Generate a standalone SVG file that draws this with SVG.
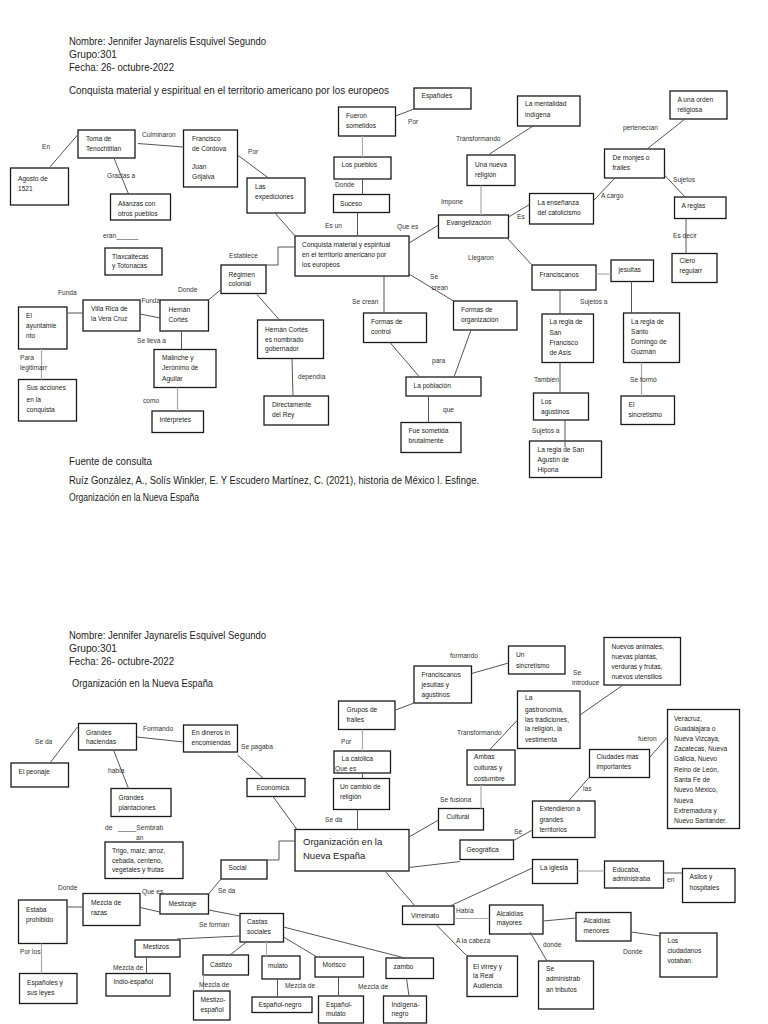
<svg xmlns="http://www.w3.org/2000/svg" width="768" height="1024" viewBox="0 0 768 1024">
<style>
.b{fill:#fff;stroke:#1a1a1a;stroke-width:1.3}
.t{font-family:"Liberation Sans",Arial,sans-serif;font-size:6.6px;fill:#222}
.l{font-family:"Liberation Sans",Arial,sans-serif;font-size:6.6px;fill:#333}
.h{font-family:"Liberation Sans",Arial,sans-serif;font-size:10.5px;fill:#222}
.ht{font-family:"Liberation Sans",Arial,sans-serif;font-size:9.5px;fill:#222}
.c{stroke:#555;stroke-width:1;fill:none}
.g{stroke:#aaa;stroke-width:1.2;fill:none}
</style>
<rect width="768" height="1024" fill="#fff"/>
<g id="headers">
<text class="h" x="69" y="45" textLength="197" lengthAdjust="spacingAndGlyphs">Nombre: Jennifer Jaynarelis Esquivel Segundo</text>
<text class="h" x="69" y="58" textLength="48" lengthAdjust="spacingAndGlyphs">Grupo:301</text>
<text class="h" x="69" y="70.5" textLength="105" lengthAdjust="spacingAndGlyphs">Fecha: 26- octubre-2022</text>
<text class="h" x="69" y="94" textLength="320" lengthAdjust="spacingAndGlyphs">Conquista material y espiritual en el territorio americano por los europeos</text>
<text class="h" x="69" y="464.5" textLength="83" lengthAdjust="spacingAndGlyphs">Fuente de consulta</text>
<text class="h" x="69" y="484" textLength="410" lengthAdjust="spacingAndGlyphs">Ruíz González, A., Solís Winkler, E. Y Escudero Martínez, C. (2021), historia de México I. Esfinge.</text>
<text class="h" x="69" y="501" textLength="130" lengthAdjust="spacingAndGlyphs">Organización en la Nueva España</text>
<text class="h" x="69" y="638.5" textLength="197" lengthAdjust="spacingAndGlyphs">Nombre: Jennifer Jaynarelis Esquivel Segundo</text>
<text class="h" x="69" y="652" textLength="48" lengthAdjust="spacingAndGlyphs">Grupo:301</text>
<text class="h" x="69" y="664.5" textLength="105" lengthAdjust="spacingAndGlyphs">Fecha: 26- octubre-2022</text>
<text class="h" x="72" y="687" textLength="141" lengthAdjust="spacingAndGlyphs">Organización en la Nueva España</text>
</g>
<g id="nodes">
<!-- TOP -->
<g id="toma"><rect class="b" x="78" y="130" width="57" height="28"/><text class="t"><tspan x="86" y="141">Toma de</tspan><tspan x="86" y="151">Tenochtitlan</tspan></text></g>
<g id="agosto"><rect class="b" x="10.5" y="168" width="58" height="37"/><text class="t"><tspan x="18" y="181">Agosto de</tspan><tspan x="18" y="190.5">1521</tspan></text></g>
<g id="francisco"><rect class="b" x="183.5" y="130" width="54" height="57"/><text class="t"><tspan x="192" y="141">Francisco</tspan><tspan x="192" y="151">de Córdova</tspan><tspan x="192" y="169">Juan</tspan><tspan x="192" y="179">Grijalva</tspan></text></g>
<g id="alianzas"><rect class="b" x="110.5" y="194" width="60" height="26"/><text class="t"><tspan x="118" y="206">Alianzas con</tspan><tspan x="118" y="216">otros pueblos</tspan></text></g>
<g id="tlaxcaltecas"><rect class="b" x="105" y="248" width="57" height="27"/><text class="t"><tspan x="112" y="259">Tlaxcaltecas</tspan><tspan x="112" y="268">y Totonacas</tspan></text></g>
<g id="expediciones"><rect class="b" x="247" y="178" width="58" height="35"/><text class="t"><tspan x="255" y="189">Las</tspan><tspan x="255" y="199">expediciones</tspan></text></g>
<g id="conquista"><rect class="b" x="295" y="236" width="114" height="40"/><text class="t"><tspan x="302" y="246.5">Conquista material y espiritual</tspan><tspan x="302" y="256.5">en el territorio americano por</tspan><tspan x="302" y="266.5">los europeos</tspan></text></g>
<g id="suceso"><rect class="b" x="333.5" y="194.5" width="56" height="18"/><text class="t"><tspan x="340" y="206">Suceso</tspan></text></g>
<g id="pueblos"><rect class="b" x="334" y="157" width="57" height="22"/><text class="t"><tspan x="341.5" y="167">Los pueblos</tspan></text></g>
<g id="sometidos"><rect class="b" x="338.5" y="107" width="57" height="29"/><text class="t"><tspan x="346" y="117.5">Fueron</tspan><tspan x="346" y="128">sometidos</tspan></text></g>
<g id="espanoles"><rect class="b" x="414" y="88" width="57" height="21"/><text class="t"><tspan x="421.5" y="97.5">Españoles</tspan></text></g>
<g id="evangelizacion"><rect class="b" x="438.5" y="215" width="70" height="23"/><text class="t"><tspan x="446.5" y="225">Evangelización</tspan></text></g>
<g id="nuevareligion"><rect class="b" x="467" y="155" width="48" height="30.5"/><text class="t"><tspan x="475" y="166.5">Una nueva</tspan><tspan x="475" y="176.5">religión</tspan></text></g>
<g id="mentalidad"><rect class="b" x="517.5" y="96" width="62.5" height="30"/><text class="t"><tspan x="525" y="106">La mentalidad</tspan><tspan x="525" y="116.5">indígena</tspan></text></g>
<g id="ensenanza"><rect class="b" x="529.5" y="193.5" width="64" height="30.5"/><text class="t"><tspan x="537.5" y="204.5">La enseñanza</tspan><tspan x="537.5" y="214.5">del catolicismo</tspan></text></g>
<g id="monjes"><rect class="b" x="604.5" y="149" width="60" height="29"/><text class="t"><tspan x="612.5" y="160">De monjes o</tspan><tspan x="612.5" y="170">frailes</tspan></text></g>
<g id="orden"><rect class="b" x="670" y="91" width="57" height="28"/><text class="t"><tspan x="677.5" y="101.5">A una orden</tspan><tspan x="677.5" y="111.5">religiosa</tspan></text></g>
<g id="reglas"><rect class="b" x="674.5" y="197" width="51.5" height="21.5"/><text class="t"><tspan x="681.5" y="208">A reglas</tspan></text></g>
<g id="clero"><rect class="b" x="672" y="253.5" width="45" height="29"/><text class="t"><tspan x="679.5" y="263">Clero</tspan><tspan x="679.5" y="272.5">regularr</tspan></text></g>
<g id="franciscanos"><rect class="b" x="532" y="265" width="64" height="25"/><text class="t"><tspan x="539.5" y="276.5">Franciscanos</tspan></text></g>
<g id="jesuitas"><rect class="b" x="611" y="260" width="42.5" height="21.5"/><text class="t"><tspan x="618.5" y="271.5">jesuitas</tspan></text></g>
<g id="reglasf"><rect class="b" x="542" y="314" width="51.5" height="48.5"/><text class="t"><tspan x="549.5" y="324">La regla de</tspan><tspan x="549.5" y="334.5">San</tspan><tspan x="549.5" y="344.5">Francisco</tspan><tspan x="549.5" y="354.5">de Asís</tspan></text></g>
<g id="reglasd"><rect class="b" x="623.5" y="313" width="56" height="49.5"/><text class="t"><tspan x="631" y="323.5">La regla de</tspan><tspan x="631" y="334">Santo</tspan><tspan x="631" y="343.5">Domingo de</tspan><tspan x="631" y="353.5">Guzmán</tspan></text></g>
<g id="agustinos"><rect class="b" x="533.5" y="393" width="55" height="27"/><text class="t"><tspan x="541" y="403.5">Los</tspan><tspan x="541" y="414">agustinos</tspan></text></g>
<g id="reglasa"><rect class="b" x="529.5" y="441" width="72" height="36.5"/><text class="t"><tspan x="537.5" y="451.5">La regla de San</tspan><tspan x="537.5" y="461.5">Agustín de</tspan><tspan x="537.5" y="471.5">Hipona</tspan></text></g>
<g id="sincretismo1"><rect class="b" x="621" y="396" width="53.5" height="28.5"/><text class="t"><tspan x="628.5" y="407">El</tspan><tspan x="628.5" y="416.5">sincretismo</tspan></text></g>
<g id="regimen"><rect class="b" x="221" y="265" width="45" height="28.5"/><text class="t"><tspan x="228.5" y="276.5">Régimen</tspan><tspan x="228.5" y="286">colonial</tspan></text></g>
<g id="gobernador"><rect class="b" x="257.5" y="320" width="66" height="38.5"/><text class="t"><tspan x="265" y="332">Hernán Cortés</tspan><tspan x="265" y="341.5">es nombrado</tspan><tspan x="265" y="351">gobernador</tspan></text></g>
<g id="rey"><rect class="b" x="264" y="396" width="64.5" height="29"/><text class="t"><tspan x="272" y="407">Directamente</tspan><tspan x="272" y="417">del Rey</tspan></text></g>
<g id="control"><rect class="b" x="363.5" y="313" width="63" height="29.5"/><text class="t"><tspan x="371" y="323.5">Formas de</tspan><tspan x="371" y="333.5">control</tspan></text></g>
<g id="organizacion1"><rect class="b" x="453.5" y="301" width="63.5" height="29"/><text class="t"><tspan x="461" y="311.5">Formas de</tspan><tspan x="461" y="322">organización</tspan></text></g>
<g id="poblacion"><rect class="b" x="406" y="377" width="75" height="19"/><text class="t"><tspan x="413.5" y="387.5">La población</tspan></text></g>
<g id="brutalmente"><rect class="b" x="401" y="422.5" width="60" height="30"/><text class="t"><tspan x="408.5" y="432.5">Fue sometida</tspan><tspan x="408.5" y="442.5">brutalmente</tspan></text></g>
<g id="villarica"><rect class="b" x="83" y="300" width="57" height="31"/><text class="t"><tspan x="91" y="311">Villa Rica de</tspan><tspan x="91" y="321">la Vera Cruz</tspan></text></g>
<g id="hernan"><rect class="b" x="160" y="300" width="48.5" height="31"/><text class="t"><tspan x="168.5" y="312">Hernán</tspan><tspan x="168.5" y="322">Cortés</tspan></text></g>
<g id="ayuntamiento"><rect class="b" x="18.5" y="307" width="48.5" height="42"/><text class="t"><tspan x="26" y="318">El</tspan><tspan x="26" y="328">ayuntamie</tspan><tspan x="26" y="338">nto</tspan></text></g>
<g id="acciones"><rect class="b" x="18.5" y="379.5" width="58" height="41.5"/><text class="t"><tspan x="26.5" y="390">Sus acciones</tspan><tspan x="26.5" y="401.5">en la</tspan><tspan x="26.5" y="411.5">conquista</tspan></text></g>
<g id="malinche"><rect class="b" x="154" y="349.5" width="62" height="38"/><text class="t"><tspan x="162" y="360">Malinche y</tspan><tspan x="162" y="370">Jerónimo de</tspan><tspan x="162" y="381">Aguilar</tspan></text></g>
<g id="interpretes"><rect class="b" x="152" y="411" width="51.5" height="21.5"/><text class="t"><tspan x="159.5" y="422">Intérpretes</tspan></text></g>
<!-- BOTTOM -->
<g id="haciendas"><rect class="b" x="78.5" y="723.5" width="58" height="26.5"/><text class="t"><tspan x="86" y="735">Grandes</tspan><tspan x="86" y="744">haciendas</tspan></text></g>
<g id="peonaje"><rect class="b" x="11" y="763" width="57.5" height="24"/><text class="t"><tspan x="18.5" y="773.5">El peonaje</tspan></text></g>
<g id="dineros"><rect class="b" x="183.5" y="725" width="54" height="27"/><text class="t"><tspan x="191.5" y="735">En dineros in</tspan><tspan x="191.5" y="745">encomiendas</tspan></text></g>
<g id="plantaciones"><rect class="b" x="111" y="788.5" width="60" height="28"/><text class="t"><tspan x="118.5" y="800">Grandes</tspan><tspan x="118.5" y="810">plantaciones</tspan></text></g>
<g id="trigo"><rect class="b" x="105" y="842" width="78" height="36.5"/><text class="t"><tspan x="112" y="852.5">Trigo, maíz, arroz,</tspan><tspan x="112" y="862.5">cebada, centeno,</tspan><tspan x="112" y="872">vegetales y frutas</tspan></text></g>
<g id="economica"><rect class="b" x="247" y="778.5" width="58" height="18"/><text class="t"><tspan x="256.5" y="789.5">Económica</tspan></text></g>
<g id="organizacion"><rect class="b" x="295" y="829.5" width="114" height="41.5"/><text class="ht"><tspan x="303" y="844.5">Organización en la</tspan><tspan x="303" y="858.5">Nueva España</tspan></text></g>
<g id="frailes"><rect class="b" x="338.5" y="701" width="56.5" height="28.5"/><text class="t"><tspan x="346.5" y="712">Grupos de</tspan><tspan x="346.5" y="722">frailes</tspan></text></g>
<g id="catolica"><rect class="b" x="334" y="751" width="56.5" height="22"/><text class="t"><tspan x="341.5" y="761">La católica</tspan></text></g>
<g id="cambio"><rect class="b" x="333.5" y="778.5" width="56" height="31"/><text class="t"><tspan x="340" y="789">Un cambio de</tspan><tspan x="340" y="799">religión</tspan></text></g>
<g id="fja"><rect class="b" x="414" y="666" width="57.5" height="37"/><text class="t"><tspan x="421.5" y="676.5">Franciscanos</tspan><tspan x="421.5" y="686.5">jesuitas y</tspan><tspan x="421.5" y="696.5">agustinos</tspan></text></g>
<g id="sincretismo2"><rect class="b" x="508.5" y="646" width="56.5" height="28"/><text class="t"><tspan x="516" y="656.5">Un</tspan><tspan x="516" y="667.5">sincretismo</tspan></text></g>
<g id="gastronomia"><rect class="b" x="517.5" y="691" width="62.5" height="57.5"/><text class="t"><tspan x="525" y="700">La</tspan><tspan x="525" y="711.5">gastronomía,</tspan><tspan x="525" y="721.5">las tradiciones,</tspan><tspan x="525" y="731">la religión, la</tspan><tspan x="525" y="742">vestimenta</tspan></text></g>
<g id="nuevos"><rect class="b" x="604" y="637.5" width="76.5" height="47.5"/><text class="t"><tspan x="611.5" y="648.5">Nuevos animales,</tspan><tspan x="611.5" y="658.5">nuevas plantas,</tspan><tspan x="611.5" y="668.5">verduras y frutas,</tspan><tspan x="611.5" y="678.5">nuevos utensilios</tspan></text></g>
<g id="ambas"><rect class="b" x="467" y="750" width="48" height="35"/><text class="t"><tspan x="474" y="759">Ambas</tspan><tspan x="474" y="770">culturas y</tspan><tspan x="474" y="781">costumbre</tspan></text></g>
<g id="cultural"><rect class="b" x="438.5" y="808.5" width="45" height="21.5"/><text class="t"><tspan x="446.5" y="819">Cultural</tspan></text></g>
<g id="extendieron"><rect class="b" x="532.5" y="801" width="62.5" height="36.5"/><text class="t"><tspan x="539.5" y="811">Extendieron a</tspan><tspan x="539.5" y="821.5">grandes</tspan><tspan x="539.5" y="831.5">territorios</tspan></text></g>
<g id="geografica"><rect class="b" x="460" y="840" width="53.5" height="19.5"/><text class="t"><tspan x="466.5" y="851.5">Geográfica</tspan></text></g>
<g id="ciudades"><rect class="b" x="589.5" y="749.5" width="60" height="28"/><text class="t"><tspan x="596.5" y="759">Ciudades mas</tspan><tspan x="596.5" y="769">importantes</tspan></text></g>
<g id="veracruz"><rect class="b" x="667.5" y="709.5" width="72" height="119"/><text class="t"><tspan x="674" y="720.5">Veracruz,</tspan><tspan x="674" y="730.5">Guadalajara o</tspan><tspan x="674" y="740.5">Nueva Vizcaya,</tspan><tspan x="674" y="750.5">Zacatecas, Nueva</tspan><tspan x="674" y="760.5">Galicia, Nuevo</tspan><tspan x="674" y="771.5">Reino de León,</tspan><tspan x="674" y="781.5">Santa Fe de</tspan><tspan x="674" y="791.5">Nuevo México,</tspan><tspan x="674" y="802.5">Nueva</tspan><tspan x="674" y="812.5">Extremadura y</tspan><tspan x="674" y="822.5">Nuevo Santander.</tspan></text></g>
<g id="iglesia"><rect class="b" x="532.5" y="859.5" width="45" height="24"/><text class="t"><tspan x="540" y="870">La iglesia</tspan></text></g>
<g id="educaba"><rect class="b" x="604.5" y="861" width="59" height="27"/><text class="t"><tspan x="612.5" y="872">Educaba,</tspan><tspan x="612.5" y="881">administraba</tspan></text></g>
<g id="asilos"><rect class="b" x="682.5" y="868.5" width="52.5" height="34"/><text class="t"><tspan x="689.5" y="879">Asilos y</tspan><tspan x="689.5" y="890">hospitales</tspan></text></g>
<g id="virreinato"><rect class="b" x="402.5" y="906" width="51.5" height="18.5"/><text class="t"><tspan x="411" y="917.5">Virreinato</tspan></text></g>
<g id="mayores"><rect class="b" x="489.5" y="905" width="53.5" height="29"/><text class="t"><tspan x="496.5" y="916">Alcaldías</tspan><tspan x="496.5" y="925">mayores</tspan></text></g>
<g id="menores"><rect class="b" x="576" y="912.5" width="55" height="28.5"/><text class="t"><tspan x="583.5" y="923">Alcaldías</tspan><tspan x="583.5" y="932.5">menores</tspan></text></g>
<g id="ciudadanos"><rect class="b" x="660" y="933" width="57" height="44"/><text class="t"><tspan x="667.5" y="943">Los</tspan><tspan x="667.5" y="953">ciudadanos</tspan><tspan x="667.5" y="963">votaban.</tspan></text></g>
<g id="tributos"><rect class="b" x="538.5" y="961" width="55" height="48"/><text class="t"><tspan x="546" y="971">Se</tspan><tspan x="546" y="981">administrab</tspan><tspan x="546" y="992">an tributos</tspan></text></g>
<g id="virrey"><rect class="b" x="467" y="956" width="50.5" height="40.5"/><text class="t"><tspan x="473" y="968.5">El virrey y</tspan><tspan x="473" y="978">la Real</tspan><tspan x="473" y="988">Audiencia</tspan></text></g>
<g id="social"><rect class="b" x="221" y="860" width="46" height="19"/><text class="t"><tspan x="228.5" y="870">Social</tspan></text></g>
<g id="mestizaje"><rect class="b" x="160" y="894" width="48.5" height="20"/><text class="t"><tspan x="168.5" y="906">Mestizaje</tspan></text></g>
<g id="razas"><rect class="b" x="83" y="893.5" width="57" height="32"/><text class="t"><tspan x="91" y="905">Mezcla de</tspan><tspan x="91" y="915">razas</tspan></text></g>
<g id="prohibido"><rect class="b" x="18.5" y="900" width="48.5" height="43.5"/><text class="t"><tspan x="26" y="911.5">Estaba</tspan><tspan x="26" y="921.5">prohibido</tspan></text></g>
<g id="leyes"><rect class="b" x="19.5" y="973.5" width="57.5" height="30"/><text class="t"><tspan x="27" y="985">Españoles y</tspan><tspan x="27" y="995">sus leyes</tspan></text></g>
<g id="castas"><rect class="b" x="240" y="913.5" width="43.5" height="28.5"/><text class="t"><tspan x="247" y="924">Castas</tspan><tspan x="247" y="934">sociales</tspan></text></g>
<g id="mestizos"><rect class="b" x="135" y="940" width="45" height="17"/><text class="t"><tspan x="143" y="948.5">Mestizos</tspan></text></g>
<g id="indioespanol"><rect class="b" x="106" y="973.5" width="64" height="22.5"/><text class="t"><tspan x="113.5" y="984">Indio-español</tspan></text></g>
<g id="castizo"><rect class="b" x="203" y="955" width="45.5" height="20"/><text class="t"><tspan x="210" y="966.5">Castizo</tspan></text></g>
<g id="mestizoespanol"><rect class="b" x="193.5" y="991" width="36.5" height="29"/><text class="t"><tspan x="200.5" y="1001.5">Mestizo-</tspan><tspan x="200.5" y="1011.5">español</tspan></text></g>
<g id="mulato"><rect class="b" x="262" y="956" width="38" height="23"/><text class="t"><tspan x="268" y="968">mulato</tspan></text></g>
<g id="espanolnegro"><rect class="b" x="252" y="997" width="60" height="15.5"/><text class="t"><tspan x="258.5" y="1007">Español-negro</tspan></text></g>
<g id="morisco"><rect class="b" x="315" y="957" width="48.5" height="20"/><text class="t"><tspan x="322.5" y="966.5">Morisco</tspan></text></g>
<g id="espanolmulato"><rect class="b" x="318.5" y="996" width="45" height="27"/><text class="t"><tspan x="326" y="1006.5">Español-</tspan><tspan x="326" y="1016">mulato</tspan></text></g>
<g id="zambo"><rect class="b" x="386" y="958" width="47.5" height="20.5"/><text class="t"><tspan x="393.5" y="968.5">zambo</tspan></text></g>
<g id="indigenanegro"><rect class="b" x="383.5" y="996" width="43" height="27"/><text class="t"><tspan x="391.5" y="1006.5">Indígena-</tspan><tspan x="391.5" y="1016">negro</tspan></text></g>
</g>
<g id="connectors">
<!-- top -->
<line class="c" x1="50" y1="167" x2="77.5" y2="135"/>
<line class="c" x1="138" y1="143.5" x2="183.5" y2="147"/>
<line class="c" x1="113.5" y1="157" x2="128.5" y2="194"/>
<line class="c" x1="237.5" y1="155" x2="268.5" y2="178"/>
<line class="c" x1="275" y1="213" x2="295" y2="236"/>
<line class="c" x1="395.5" y1="116" x2="414" y2="109"/>
<line class="g" x1="362.5" y1="136" x2="362.5" y2="157"/>
<line class="c" x1="362.5" y1="179" x2="362.5" y2="194.5"/>
<line class="c" x1="357.5" y1="212.5" x2="357.5" y2="236"/>
<line class="c" x1="409" y1="243" x2="438.5" y2="225"/>
<line class="g" x1="481" y1="185.5" x2="481" y2="215"/>
<line class="c" x1="489.5" y1="154" x2="533" y2="126"/>
<line class="c" x1="508.5" y1="217" x2="529.5" y2="204.5"/>
<line class="c" x1="594" y1="200" x2="615" y2="178"/>
<line class="c" x1="647" y1="149" x2="685" y2="119"/>
<line class="c" x1="664.5" y1="175" x2="685" y2="197"/>
<line class="c" x1="686" y1="218.5" x2="686" y2="253.5"/>
<line class="c" x1="507" y1="238" x2="532" y2="265"/>
<line class="g" x1="596" y1="274" x2="611" y2="274"/>
<line class="c" x1="560" y1="290" x2="560" y2="314"/>
<line class="c" x1="631.5" y1="281.5" x2="631.5" y2="313"/>
<line class="c" x1="560" y1="362.5" x2="560" y2="393"/>
<line class="c" x1="565" y1="420" x2="565" y2="447"/>
<line class="g" x1="641.5" y1="362.5" x2="641.5" y2="396"/>
<polyline class="c" points="295,247 278,247 278,265 266,265"/>
<line class="c" x1="208.5" y1="300" x2="221" y2="289.5"/>
<line class="c" x1="257" y1="294.5" x2="279.5" y2="320"/>
<line class="c" x1="292" y1="358.5" x2="293" y2="396"/>
<line class="c" x1="384" y1="276" x2="384" y2="313"/>
<line class="c" x1="409" y1="274" x2="453.5" y2="301"/>
<line class="c" x1="390" y1="342.5" x2="419.5" y2="377"/>
<line class="c" x1="471" y1="330" x2="454" y2="377"/>
<line class="c" x1="428.5" y1="396" x2="428.5" y2="422.5"/>
<line class="c" x1="67" y1="313" x2="83" y2="313"/>
<line class="c" x1="140" y1="314" x2="160" y2="318"/>
<line class="g" x1="41.5" y1="349" x2="41.5" y2="379.5"/>
<line class="c" x1="181.5" y1="331" x2="181.5" y2="349.5"/>
<line class="g" x1="177.5" y1="387.5" x2="177.5" y2="411"/>
<!-- bottom -->
<line class="c" x1="50" y1="763" x2="77.5" y2="727"/>
<line class="c" x1="137" y1="737" x2="183.5" y2="742"/>
<line class="c" x1="113.5" y1="750" x2="128.5" y2="788.5"/>
<line class="c" x1="237.5" y1="755" x2="263.5" y2="778.5"/>
<line class="c" x1="273" y1="796.5" x2="297" y2="829.5"/>
<polyline class="c" points="295,841 279,841 279,860 267,860"/>
<line class="c" x1="395.5" y1="710" x2="414" y2="703"/>
<line class="g" x1="362.5" y1="729.5" x2="362.5" y2="751"/>
<line class="c" x1="362.5" y1="773" x2="362.5" y2="778.5"/>
<line class="c" x1="357.5" y1="809.5" x2="357.5" y2="829.5"/>
<line class="c" x1="471.5" y1="673.5" x2="508.5" y2="663"/>
<line class="c" x1="580" y1="715" x2="623" y2="685"/>
<line class="c" x1="489.5" y1="750" x2="517.5" y2="720"/>
<line class="g" x1="481" y1="785" x2="481" y2="808.5"/>
<line class="c" x1="409" y1="837" x2="438.5" y2="820"/>
<line class="c" x1="409" y1="867.5" x2="460" y2="861.5"/>
<line class="c" x1="513.5" y1="840.5" x2="532.5" y2="830"/>
<line class="c" x1="568.5" y1="801" x2="589.5" y2="777"/>
<line class="c" x1="649.5" y1="757.5" x2="667.5" y2="737"/>
<line class="c" x1="385" y1="871" x2="415" y2="906"/>
<line class="c" x1="450" y1="906" x2="532.5" y2="868"/>
<line class="g" x1="577.5" y1="871" x2="604.5" y2="871"/>
<line class="c" x1="663.5" y1="873" x2="682.5" y2="873"/>
<line class="g" x1="454" y1="918.5" x2="489.5" y2="918.5"/>
<line class="c" x1="543" y1="921" x2="576" y2="918"/>
<line class="c" x1="631" y1="932" x2="660" y2="936"/>
<line class="c" x1="530" y1="932" x2="547" y2="961"/>
<line class="c" x1="436" y1="924.5" x2="466" y2="955"/>
<line class="c" x1="208.5" y1="894" x2="221" y2="879"/>
<line class="c" x1="67" y1="907" x2="83" y2="907"/>
<line class="c" x1="140" y1="907.5" x2="160" y2="912"/>
<line class="c" x1="208.5" y1="910" x2="240" y2="916"/>
<line class="g" x1="41.5" y1="943.5" x2="41.5" y2="973.5"/>
<line class="c" x1="177" y1="939" x2="240" y2="936"/>
<line class="c" x1="146.5" y1="957" x2="146.5" y2="973.5"/>
<line class="c" x1="230" y1="955" x2="246.5" y2="942"/>
<line class="g" x1="203.5" y1="975" x2="203.5" y2="991"/>
<line class="g" x1="266.5" y1="942" x2="266.5" y2="956"/>
<line class="c" x1="277.5" y1="979" x2="277.5" y2="997"/>
<line class="c" x1="283.5" y1="937" x2="317" y2="957"/>
<line class="c" x1="338.5" y1="977" x2="338.5" y2="996"/>
<line class="c" x1="283.5" y1="927" x2="405" y2="958"/>
<line class="c" x1="406.5" y1="978.5" x2="409" y2="996"/>
</g>
<g id="labels">
<text class="l" x="42" y="149">En</text>
<text class="l" x="142" y="136.5">Culminaron</text>
<text class="l" x="107" y="178">Gracias a</text>
<text class="l" x="103" y="237.5">eran______</text>
<text class="l" x="248" y="154">Por</text>
<text class="l" x="408" y="124">Por</text>
<text class="l" x="335" y="187">Donde</text>
<text class="l" x="325" y="228">Es un</text>
<text class="l" x="397" y="229">Que es</text>
<text class="l" x="456" y="141">Transformando</text>
<text class="l" x="441" y="204">Impone</text>
<text class="l" x="468" y="260">Llegaron</text>
<text class="l" x="517" y="219">Es</text>
<text class="l" x="601" y="198">A cargo</text>
<text class="l" x="623" y="130">pertenecían</text>
<text class="l" x="673" y="182">Sujetos</text>
<text class="l" x="673" y="238">Es decir</text>
<text class="l" x="580" y="304">Sujetos a</text>
<text class="l" x="534" y="382">También</text>
<text class="l" x="532" y="433">Sujetos a</text>
<text class="l" x="630" y="382">Se formó</text>
<text class="l" x="229" y="258">Establece</text>
<text class="l" x="298" y="378.5">dependía</text>
<text class="l" x="352" y="304">Se crean</text>
<text class="l" x="430" y="279">Se</text>
<text class="l" x="431.5" y="290">crean</text>
<text class="l" x="432" y="362.5">para</text>
<text class="l" x="443" y="412">que</text>
<text class="l" x="58" y="295">Funda</text>
<text class="l" x="141.5" y="302.5">Funda</text>
<text class="l" x="178" y="292">Donde</text>
<text class="l" x="137" y="342.5">Se lleva a</text>
<text class="l" x="20" y="360">Para</text>
<text class="l" x="20" y="370">legitimarr</text>
<text class="l" x="143" y="402.5">como</text>
<text class="l" x="35" y="744">Se da</text>
<text class="l" x="143" y="731">Formando</text>
<text class="l" x="108" y="773">había</text>
<text class="l" x="105" y="830">de</text>
<text class="l" x="118" y="830">_____Sembrab</text>
<text class="l" x="136" y="839.5">an</text>
<text class="l" x="241" y="749">Se pagaba</text>
<text class="l" x="341" y="744">Por</text>
<text class="l" x="335" y="771">Que es</text>
<text class="l" x="325" y="822">Se da</text>
<text class="l" x="450" y="657.5">formando</text>
<text class="l" x="573" y="675">Se</text>
<text class="l" x="572" y="685">introduce</text>
<text class="l" x="457" y="735">Transformando</text>
<text class="l" x="440" y="802">Se fusiona</text>
<text class="l" x="514" y="834">Se</text>
<text class="l" x="583" y="791">las</text>
<text class="l" x="638" y="741">fueron</text>
<text class="l" x="667" y="882">en</text>
<text class="l" x="456" y="912.5">Había</text>
<text class="l" x="456" y="942.5">A la cabeza</text>
<text class="l" x="543" y="946.5">donde</text>
<text class="l" x="623" y="954">Donde</text>
<text class="l" x="58" y="890">Donde</text>
<text class="l" x="142" y="894">Que es</text>
<text class="l" x="218" y="892.5">Se da</text>
<text class="l" x="20" y="954">Por los</text>
<text class="l" x="199" y="927">Se forman</text>
<text class="l" x="113" y="970">Mezcla de</text>
<text class="l" x="199" y="987">Mezcla de</text>
<text class="l" x="285" y="987.5">Mezcla de</text>
<text class="l" x="358" y="989">Mezcla de</text>
</g>
</svg>
